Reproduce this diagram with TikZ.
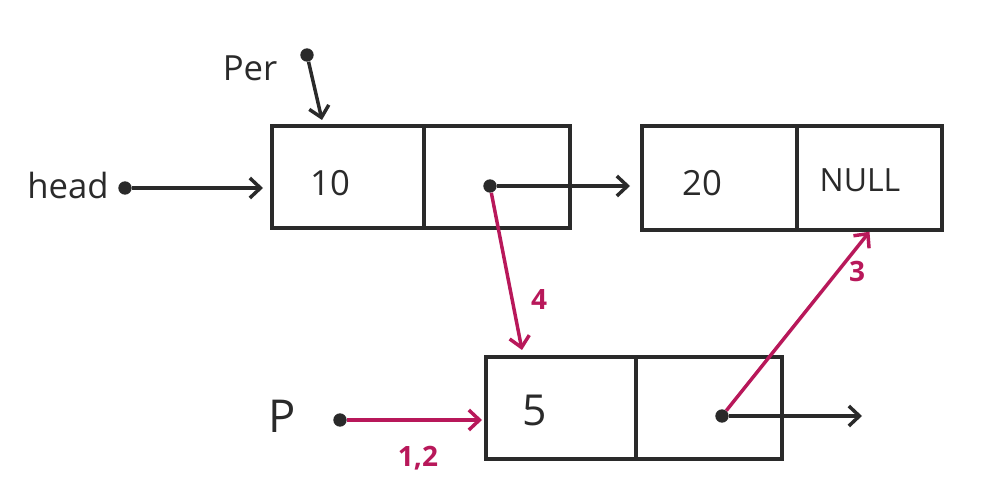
\documentclass[tikz,border=0pt]{standalone}
\usepackage{fontspec}
\setmainfont{Open Sans}
\usetikzlibrary{arrows.meta,calc}
\definecolor{ink}{HTML}{2A2A2A}
\definecolor{mag}{HTML}{B8185A}
\begin{document}
\begin{tikzpicture}[x=0.75pt,y=-0.75pt,
  cell/.style={draw=ink,line width=2.6pt,minimum height=76.5pt,inner sep=0pt},
  dotn/.style={circle,fill=ink,inner sep=0pt,minimum size=10pt},
  lbl/.style={text=ink,font=\fontsize{26}{30}\selectfont},
  arr/.style={line width=2.6pt,-{Straight Barb[length=8pt,width=15pt,line width=2.6pt]}},
  blk/.style={arr,draw=ink},
  red/.style={arr,draw=mag},
  rlbl/.style={text=mag,font=\bfseries\fontsize{21}{24}\selectfont}]
\useasboundingbox (0,0) rectangle (988,484);
% list nodes
\node[cell,minimum width=114pt] (n1a) at (348,177) {};
\node[cell,minimum width=109.5pt] (n1b) at (497,177) {};
\node[cell,minimum width=116.25pt,minimum height=78pt] (n2a) at (719.5,178) {};
\node[cell,minimum width=108.75pt,minimum height=78pt] (n2b) at (869.5,178) {};
\node[cell,minimum width=112.5pt] (n3a) at (561,408) {};
\node[cell,minimum width=109.5pt] (n3b) at (709,408) {};
% values
\node[lbl] (v10) at (330,183) {10};
\node[lbl] (v20) at (702,183) {20};
\node[lbl,font=\fontsize{24}{28}\selectfont] (vnull) at (860,180) {NULL};
\node[lbl,font=\fontsize{32}{36}\selectfont] (v5) at (535,410) {5};
% pointer labels
\node[lbl] (per) at (250,68) {Per};
\node[lbl] (head) at (68,186) {head};
\node[lbl,font=\fontsize{34}{38}\selectfont] (p) at (282,416) {P};
% dots
\node[dotn] (dper) at (307,55) {};
\node[dotn] (dhead) at (125,188) {};
\node[dotn] (d1) at (490,186) {};
\node[dotn] (dp) at (340,420) {};
\node[dotn] (d3) at (722,416) {};
% free ends
\coordinate (eper) at (322,120);
\coordinate (ehead) at (263,188);
\coordinate (e1) at (630,186);
\coordinate (e4) at (522,350);
\coordinate (ep) at (482,420);
\coordinate (e3) at (862,416);
% black arrows
\draw[blk] (dper) -- (eper);
\draw[blk] (dhead) -- (ehead);
\draw[blk] (d1) -- (e1);
\draw[blk] (d3) -- (e3);
% red arrows
\draw[red] (d1) -- (e4);
\draw[red] (dp) -- (ep);
\draw[red] (d3) -- (n2b.south);
% red labels
\node[rlbl] (l4) at (539,300) {4};
\node[rlbl] (l3) at (857,272) {3};
\node[rlbl] (l12) at (418,458) {1,2};
\end{tikzpicture}
\end{document}
